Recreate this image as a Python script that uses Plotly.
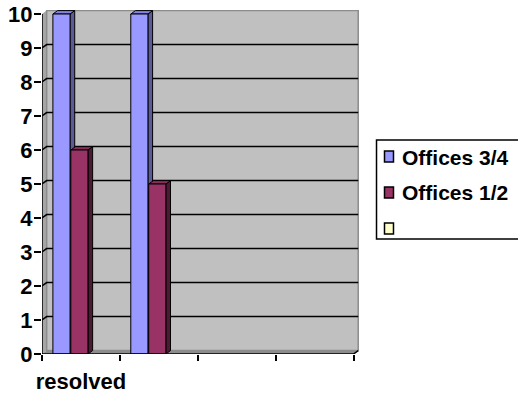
import plotly.graph_objects as go

# ---- data -------------------------------------------------------------
categories = ["resolved", "", "", ""]
series_names = ["Offices 3/4", "Offices 1/2", ""]
offices_34 = [10, 10, None, None]
offices_12 = [6, 5, None, None]
series_3 = [None, None, None, None]
y_ticks = list(range(0, 11))

# ---- styling ----------------------------------------------------------
front_colors = ["#9999FF", "#993366", "#FFFFCC"]
side_colors = ["#5B5B99", "#4C1A33", "#999966"]
top_colors = ["#8585E0", "#862D5A", "#E6E6B8"]
bar_offsets = [-0.36, -0.13, 0.10]
bar_width = 0.22

W, H = 518, 394
ML, MT, MB = 42, 10, 40
X_UNIT, Y_UNIT = 78.0, 34.0          # pixels per category / per unit value
DX, DY = 0.06, 0.10                  # depth offset of the 3-D box (data units)
n = len(categories)
y_top = max(y_ticks)
plot_h = H - MT - MB
y_max = plot_h / Y_UNIT
x_max = n + 0.07
plot_w = x_max * X_UNIT
MR = W - ML - plot_w

FONT = "Liberation Sans, Arial, sans-serif"
TEXT = dict(family=FONT, size=22, color="black", weight="bold")


def px_x(px):
    return (px - ML) / plot_w


def px_y(py):
    return 1 - (py - MT) / plot_h


def poly(points):
    return "M " + " L ".join(f"{x},{y}" for x, y in points) + " Z"


fig = go.Figure()
series = [offices_34, offices_12, series_3]
xs = [i + 0.5 for i in range(n)]
for name, vals, col, off in zip(series_names, series, front_colors, bar_offsets):
    fig.add_trace(go.Bar(
        x=xs, y=vals, name=name, width=bar_width, offset=off,
        marker=dict(color=col, line=dict(color="black", width=1)),
        showlegend=False, hoverinfo="skip",
    ))

shapes = []
# side wall, back wall, floor
shapes.append(dict(type="path", path=poly([(0, 0), (DX, DY), (DX, y_top + DY), (0, y_top)]),
                   fillcolor="#A6A6A6", line=dict(width=0), layer="below"))
shapes.append(dict(type="rect", x0=DX, y0=DY, x1=n + DX, y1=y_top + DY,
                   fillcolor="#C0C0C0", line=dict(color="#8C8C8C", width=1.5), layer="below"))
shapes.append(dict(type="path", path=poly([(0, 0), (n, 0), (n + DX, DY), (DX, DY)]),
                   fillcolor="#8C8C8C", line=dict(width=0), layer="below"))
# gridlines on the side wall and back wall
for k in y_ticks[1:-1]:
    shapes.append(dict(type="path", path=f"M 0,{k} L {DX},{k + DY} L {n + DX},{k + DY}",
                       line=dict(color="black", width=1.5), layer="below"))
# top and side faces of every column
for vals, off, sc, tc in zip(series, bar_offsets, side_colors, top_colors):
    for xc, v in zip(xs, vals):
        if v is None:
            continue
        x0 = xc + off
        x1 = x0 + bar_width
        shapes.append(dict(type="path",
                           path=poly([(x1, 0), (x1 + DX, DY), (x1 + DX, v + DY), (x1, v)]),
                           fillcolor=sc, line=dict(color="black", width=1), layer="below"))
        shapes.append(dict(type="path",
                           path=poly([(x0, v), (x1, v), (x1 + DX, v + DY), (x0 + DX, v + DY)]),
                           fillcolor=tc, line=dict(color="black", width=1), layer="below"))
# axis lines
shapes.append(dict(type="line", x0=0, y0=0, x1=0, y1=y_top, line=dict(color="black", width=1.5)))
shapes.append(dict(type="path", path=f"M 0,0 L {n},0 L {n + DX},{DY}",
                   line=dict(color="black", width=1.5)))
for s in shapes:
    s.setdefault("xref", "x")
    s.setdefault("yref", "y")

# legend box
leg_left, leg_top, leg_bottom = 377, 140, 239
shapes.append(dict(type="rect", xref="paper", yref="paper",
                   x0=px_x(leg_left), x1=px_x(W + 20), y0=px_y(leg_bottom), y1=px_y(leg_top),
                   fillcolor="white", line=dict(color="black", width=1.5)))
annotations = []
row_y = [156, 192, 228]
for name, col, ry in zip(series_names, front_colors, row_y):
    shapes.append(dict(type="rect", xref="paper", yref="paper",
                       x0=px_x(385), x1=px_x(394), y0=px_y(ry + 6), y1=px_y(ry - 5),
                       fillcolor=col, line=dict(color="black", width=1.5)))
    if name:
        annotations.append(dict(xref="paper", yref="paper", x=px_x(401), y=px_y(ry + 1),
                                xanchor="left", yanchor="middle", text=name, showarrow=False,
                                font=dict(TEXT, size=21)))

fig.update_layout(
    width=W, height=H,
    margin=dict(l=ML, r=MR, t=MT, b=MB, autoexpand=False),
    paper_bgcolor="white", plot_bgcolor="white",
    barmode="overlay", showlegend=False,
    shapes=shapes, annotations=annotations,
    xaxis=dict(range=[0, x_max], tickvals=xs, ticktext=categories, ticks="",
               ticklabelstandoff=12,
               showgrid=False, zeroline=False, showline=False, fixedrange=True,
               tickfont=TEXT,
               minor=dict(tickvals=list(range(n + 1)), ticks="outside", ticklen=6,
                          tickwidth=1.5, tickcolor="black", showgrid=False)),
    yaxis=dict(range=[0, y_max], tickvals=y_ticks, ticks="outside", ticklen=7,
               ticklabelstandoff=-3,
               tickwidth=1.5, tickcolor="black", showgrid=False, zeroline=False,
               showline=False, fixedrange=True, tickfont=TEXT),
)

fig.write_html("out.html")
